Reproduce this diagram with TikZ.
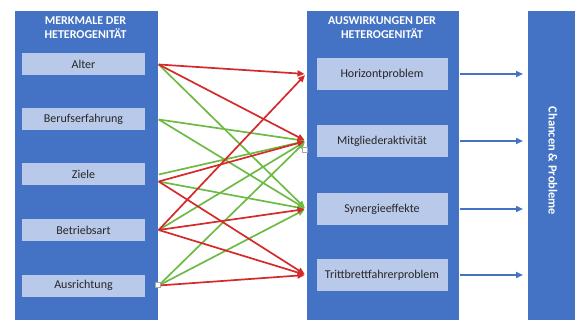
\documentclass[tikz,border=0pt]{standalone}
\usepackage{fontspec}
\setmainfont{Carlito}
\usetikzlibrary{arrows.meta}
\definecolor{otblue}{HTML}{4472C4}
\definecolor{otlight}{HTML}{B8C9E9}
\definecolor{otred}{HTML}{D42A2A}
\definecolor{otgreen}{HTML}{6DBB45}

\begin{document}
\begin{tikzpicture}[x=1pt, y=-1pt, line width=1.7pt,
  column/.style={fill=otblue, draw=none, anchor=north west, inner sep=0pt, minimum height=312pt},
  header/.style={text=white, font=\bfseries\fontsize{12}{14.5}\selectfont, align=center},
  item/.style={fill=otlight, draw=none, minimum width=123pt, minimum height=22pt, inner sep=0pt,
    text=black!85, font=\fontsize{12}{13}\selectfont},
  effect/.style={item, minimum width=131pt, minimum height=32pt},
  tip/.style={-{Triangle[length=7pt, width=6pt]}},
  plus/.style={tip, draw=otgreen, shorten >=1.5pt},
  minus/.style={tip, draw=otred, shorten >=1.5pt},
  flow/.style={tip, draw=otblue, line width=1.8pt, shorten >=4pt},
  handle/.style={fill=white, draw=black!35, line width=0.4pt}]
  \useasboundingbox (0,0) rectangle (575,320);
  % the three columns
  \node[column, minimum width=143pt] (merkmale) at (14,10) {};
  \node[column, minimum width=152pt] (auswirkungen) at (306,10) {};
  \node[column, minimum width=48pt] (chancen) at (527,10) {};
  \node[header] (merkmale-titel) at (85.5,27.5) {MERKMALE DER\\HETEROGENITÄT};
  \node[header] (auswirkungen-titel) at (382,27.5) {AUSWIRKUNGEN DER\\HETEROGENITÄT};
  \node[header, font=\bfseries\fontsize{12.4}{14}\selectfont, rotate=-90] (chancen-titel) at (553,161) {Chancen \& Probleme};
  % features (left)
  \node[item] (alter) at (83.5,64.5) {Alter};
  \node[item] (beruf) at (83.5,119.5) {Berufserfahrung};
  \node[item] (ziele) at (83.5,174.5) {Ziele};
  \node[item] (betrieb) at (83.5,230) {Betriebsart};
  \node[item] (ausrichtung) at (83.5,285.5) {Ausrichtung};
  % effects (middle)
  \node[effect] (horizont) at (382,74) {Horizontproblem};
  \node[effect] (mitglieder) at (382,141) {Mitgliederaktivität};
  \node[effect] (synergie) at (382,209) {Synergieeffekte};
  \node[effect] (tritt) at (382,275) {Trittbrettfahrerproblem};
  % connector ends on the column edges
  \foreach \n in {alter, beruf, ziele, betrieb, ausrichtung}
    \coordinate (\n-o) at (merkmale.east |- \n.east);
  \path (ziele-o) ++(0,7) coordinate (ziele-u);
  \foreach \n in {horizont, mitglieder, synergie, tritt}
    \coordinate (\n-i) at (auswirkungen.west |- \n.west);
  % positive links
  \draw[plus] (alter-o) -- (synergie-i);
  \draw[plus] (beruf-o) -- (mitglieder-i);
  \draw[plus] (beruf-o) -- (synergie-i);
  \draw[plus] (ziele-o) -- (mitglieder-i);
  \draw[plus] (ziele-u) -- (synergie-i);
  \draw[plus] (betrieb-o) -- (mitglieder-i);
  \draw[plus] (ausrichtung-o) -- (mitglieder-i);
  \draw[plus] (ausrichtung-o) -- (synergie-i);
  % negative links
  \draw[minus] (alter-o) -- (horizont-i);
  \draw[minus] (alter-o) -- (mitglieder-i);
  \draw[minus] (ziele-u) -- (mitglieder-i);
  \draw[minus] (ziele-u) -- (tritt-i);
  \draw[minus] (betrieb-o) -- (horizont-i);
  \draw[minus] (betrieb-o) -- (synergie-i);
  \draw[minus] (betrieb-o) -- (tritt-i);
  \draw[minus] (ausrichtung-o) -- (tritt-i);
  % effects lead on to the last column
  \foreach \n in {horizont, mitglieder, synergie, tritt}
    \draw[flow] (auswirkungen.east |- \n.east) -- (chancen.west |- \n.east);
  % selection handles
  \filldraw[handle] (157.5,284.5) ++(-2.5,-2.5) rectangle ++(5,5);
  \filldraw[handle] (304.5,149.5) ++(-2.5,-2.5) rectangle ++(5,5);
\end{tikzpicture}
\end{document}
